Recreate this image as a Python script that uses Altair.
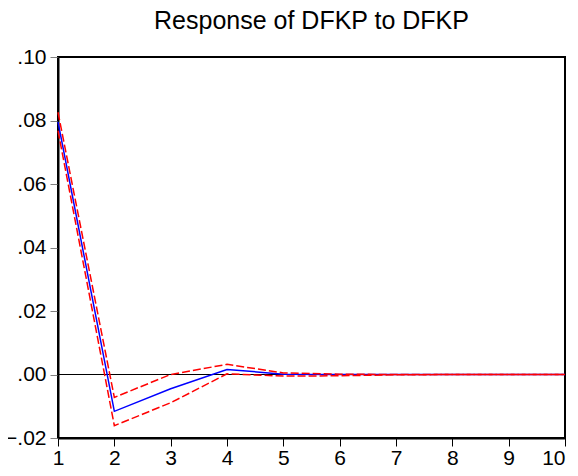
import altair as alt
import pandas as pd

periods = [1, 2, 3, 4, 5, 6, 7, 8, 9, 10]
response = [0.0796, -0.0116, -0.0045, 0.0016, 0.0001, 0.0000, 0.0000, 0.0000, 0.0000, 0.0000]
upper = [0.0826, -0.0072, 0.0000, 0.0032, 0.0005, 0.0001, 0.0000, 0.0000, 0.0000, 0.0000]
lower = [0.0768, -0.0161, -0.0089, 0.0002, -0.0005, -0.0004, -0.0001, 0.0000, 0.0000, 0.0000]
y_ticks = [-0.02, 0.0, 0.02, 0.04, 0.06, 0.08, 0.10]

df = pd.DataFrame({"period": periods, "response": response, "upper": upper, "lower": lower})

x_enc = alt.X("period:Q", scale=alt.Scale(domain=[1, 10], nice=False, zero=False),
              axis=alt.Axis(values=periods, title=None, format="d", grid=False,
                            domainColor="black", domainWidth=2, tickColor="black",
                            tickSize=8, tickWidth=1, labelFontSize=21, labelPadding=1,
                            labelColor="black", labelFont="Liberation Sans", labelFlush=False,
                            labelAlign={"condition": {"test": "datum.value == 10", "value": "right"},
                                        "value": "center"}))
y_scale = alt.Scale(domain=[-0.02, 0.10], nice=False, zero=False)
y_axis = alt.Axis(values=y_ticks, title=None, grid=False,
                  labelExpr="replace(format(datum.value, '.2f'), '0.', '.')",
                  domainColor="black", domainWidth=2, tickColor="gray",
                  tickSize=8, tickWidth=1, labelFontSize=21, labelPadding=4,
                  labelColor="black", labelFont="Liberation Sans")

base = alt.Chart(df)

zero = alt.Chart(pd.DataFrame({"z": [0.0]})).mark_rule(color="black", strokeWidth=1).encode(
    y=alt.Y("z:Q", scale=y_scale, axis=y_axis)
)

blue = base.mark_line(color="#0000ff", strokeWidth=1.5).encode(
    x=x_enc, y=alt.Y("response:Q", scale=y_scale, axis=y_axis)
)
up = base.mark_line(color="#ff0000", strokeWidth=1.5, strokeDash=[8, 3]).encode(
    x=x_enc, y=alt.Y("upper:Q", scale=y_scale, axis=y_axis)
)
lo = base.mark_line(color="#ff0000", strokeWidth=1.5, strokeDash=[8, 3]).encode(
    x=x_enc, y=alt.Y("lower:Q", scale=y_scale, axis=y_axis)
)

chart = alt.layer(zero, blue, up, lo).properties(
    width=507, height=381,
    title=alt.TitleParams("Response of DFKP to DFKP", fontSize=25, font="Liberation Sans",
                          fontWeight="normal", color="black", offset=12, anchor="middle"),
    autosize=alt.AutoSizeParams(type="none"),
    padding={"left": 50, "top": 49, "right": 5, "bottom": 30},
).configure(background="white").configure_view(stroke="black", strokeWidth=2)

chart.save("out.html", embed_options={"renderer": "svg", "actions": False})
